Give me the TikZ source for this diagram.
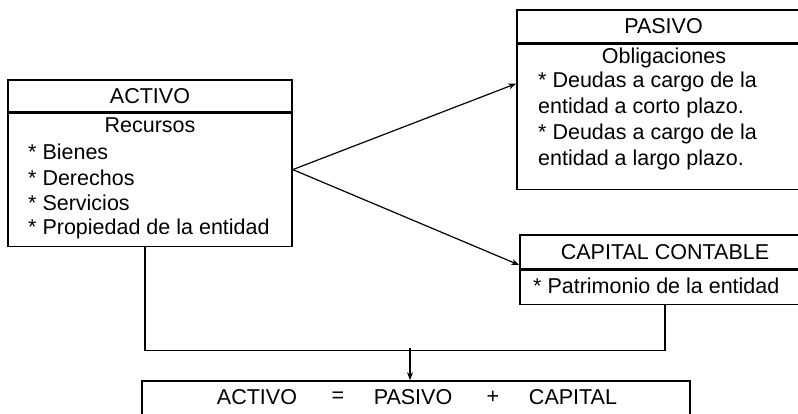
\documentclass[tikz,border=0pt]{standalone}
\usepackage{fontspec}
\setmainfont{Liberation Sans}
\usetikzlibrary{positioning,arrows.meta}

\tikzset{
  caja/.style={draw, line width=1.6pt, inner sep=0pt},
  txt/.style={inner sep=0pt, anchor=west},
  linea/.style={line width=1.2pt},
  flecha/.style={linea, -{Stealth[length=8pt,width=6pt]}}
}

\begin{document}
\begin{tikzpicture}[x=1pt, y=-1pt, font=\fontsize{21.5}{25}\selectfont]
\useasboundingbox (0,0) rectangle (798,414);
\clip (0,0) rectangle (798,414);

% activo
\node[caja, minimum width=284pt, minimum height=32pt] (activo) at (150,96) {ACTIVO};
\node[caja, minimum width=284pt, minimum height=133pt, below=0pt of activo] (recursos) {};
\node (tRecursos) at (150,125) {Recursos};
\foreach \y/\t in {152/Bienes, 178/Derechos, 203/Servicios, 229/Propiedad de la entidad}
  \node[txt] (item\y) at (28,\y) {* \t};

% pasivo
\node[caja, minimum width=293pt, minimum height=33pt] (pasivo) at (663.5,26.5) {PASIVO};
\node[caja, minimum width=293pt, minimum height=145pt, below=0pt of pasivo] (obligaciones) {};
\node (tObligaciones) at (664,58) {Obligaciones};
\foreach \y/\t in {82/* Deudas a cargo de la, 108/entidad a corto plazo., 134/* Deudas a cargo de la, 160/entidad a largo plazo.}
  \node[txt] (deuda\y) at (538,\y) {\t};

% capital contable
\node[caja, minimum width=290pt, minimum height=34pt] (capital) at (665,252) {CAPITAL CONTABLE};
\node[caja, minimum width=290pt, minimum height=34pt, below=0pt of capital] (patrimonio) {};
\node[txt] (tPatrimonio) at (533,286) {* Patrimonio de la entidad};

% ecuacion
\node[caja, minimum width=548pt, minimum height=60pt] (ecuacion) at (416,411) {};
\node (eActivo) at (257,397) {ACTIVO};
\node (eIgual) at (338,397) {=};
\node (ePasivo) at (413,397) {PASIVO};
\node (eMas) at (493,397) {+};
\node (eCapital) at (573,397) {CAPITAL};

% conectores
\coordinate (salida) at ([yshift=10.5pt]recursos.east);
\draw[flecha] (salida) -- ([yshift=33.5pt]obligaciones.west);
\draw[flecha] (salida) -- ([yshift=-13pt]capital.west);
\draw[linea] ([xshift=-5pt]recursos.south) |- ([yshift=-45pt]patrimonio.south) -- (patrimonio.south);
\coordinate (union) at (410,348);
\draw[flecha] (union) -- (union |- ecuacion.north);
\end{tikzpicture}
\end{document}
